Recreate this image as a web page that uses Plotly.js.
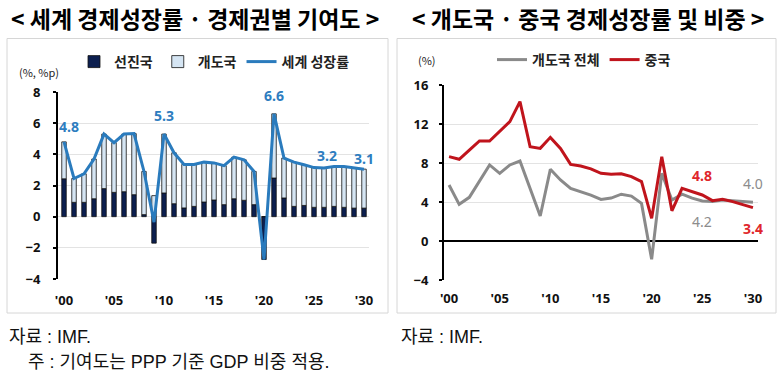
<!DOCTYPE html>
<html>
<head>
<meta charset="utf-8">
<script src="https://cdn.plot.ly/plotly-3.0.1.min.js"></script>
<style>
html,body{margin:0;padding:0;background:#fff;}
#chart{width:782px;height:372px;}
</style>
</head>
<body>
<div id="chart"></div>
<script>
// ---- data ----
const years = [2000,2001,2002,2003,2004,2005,2006,2007,2008,2009,2010,2011,2012,2013,2014,2015,2016,2017,2018,2019,2020,2021,2022,2023,2024,2025,2026,2027,2028,2029,2030];
const worldGrowth = [4.8,2.45,2.75,3.7,5.3,4.75,5.3,5.33,2.9,-0.35,5.3,4.1,3.35,3.35,3.5,3.45,3.27,3.82,3.65,2.9,-2.75,6.6,3.76,3.5,3.33,3.15,3.12,3.22,3.22,3.15,3.05];
const advancedContrib = [2.43,0.92,0.92,1.15,1.8,1.56,1.6,1.41,0.13,-1.7,1.52,0.83,0.56,0.66,0.94,1.07,0.77,1.15,1.05,0.77,-2.75,2.48,1.2,0.66,0.72,0.6,0.6,0.66,0.6,0.55,0.55];
const developingContrib = [2.37,1.53,1.83,2.55,3.5,3.19,3.7,3.92,2.77,1.35,3.78,3.27,2.79,2.69,2.56,2.38,2.5,2.67,2.6,2.13,0,4.12,2.56,2.84,2.61,2.55,2.52,2.56,2.62,2.6,2.5];
const emdeGrowth = [5.74,3.76,4.48,6.08,7.8,6.94,7.8,8.2,5.4,2.56,7.35,6.26,5.4,5.06,4.7,4.27,4.4,4.8,4.6,3.86,-1.88,6.94,4.2,4.8,4.4,4.1,4.05,4.2,4.1,4.05,3.97];
const chinaGrowth = [8.65,8.38,9.33,10.26,10.26,11.2,12.24,14.29,9.67,9.5,10.63,9.5,7.86,7.69,7.4,6.94,6.84,6.9,6.6,6.1,2.32,8.65,3.1,5.4,5.06,4.72,4.14,4.27,4.04,3.7,3.42];
const xTickVals = [2000,2005,2010,2015,2020,2025,2030];
const xTickText = ["'00","'05","'10","'15","'20","'25","'30"];
const leftYTicks = [-4,-2,0,2,4,6,8];
const rightYTicks = [-4,0,4,8,12,16];
const halfYearTicks = years.map(y => y + 0.5);
// labelled points: [x, y, text]
const worldLabels = [[2000.5,5.8,'4.8'],[2010,6.5,'5.3'],[2021,7.8,'6.6'],[2026.3,3.9,'3.2'],[2030,3.75,'3.1']];
const chinaLabels = [[2025,6.7,'4.8'],[2030,1.25,'3.4']];
const emdeLabels = [[2030,5.85,'4.0'],[2025,2.0,'4.2']];

// ---- layout geometry ----
const W = 782, H = 372;
const px = v => v / W, py = v => 1 - v / H;
const KR = '"Noto Sans CJK KR", "Noto Sans", sans-serif';
const leftDom = {x:[px(58), px(369)], y:[py(279), py(92)]};
const rightDom = {x:[px(444), px(758)], y:[py(280), py(85)]};
const leftRange = [-4, 8];
const zeroPos = leftDom.y[0] + (0 - leftRange[0]) / (leftRange[1] - leftRange[0]) * (leftDom.y[1] - leftDom.y[0]);

const navy = '#0c1f4f', lightBlue = '#d5e5f3', blue = '#2a7bbd';
const gray = '#8a8a8a', red = '#c0141c';

const traces = [
  {type:'bar', x:years, y:advancedContrib, name:'선진국', marker:{color:navy, line:{color:'#111', width:0.8}}, width:0.45, xaxis:'x', yaxis:'y', legend:'legend'},
  {type:'bar', x:years, y:developingContrib, name:'개도국', marker:{color:lightBlue, line:{color:'#111', width:0.8}}, width:0.45, xaxis:'x', yaxis:'y', legend:'legend'},
  {type:'scatter', mode:'lines', x:years, y:worldGrowth, name:'세계 성장률', line:{color:blue, width:3}, xaxis:'x', yaxis:'y', legend:'legend'},
  {type:'scatter', mode:'lines', x:years, y:emdeGrowth, name:'개도국 전체', line:{color:gray, width:3}, xaxis:'x2', yaxis:'y2', legend:'legend2'},
  {type:'scatter', mode:'lines', x:years, y:chinaGrowth, name:'중국', line:{color:red, width:3}, xaxis:'x2', yaxis:'y2', legend:'legend2'}
];

const tickFont = {family:'"Noto Sans", "Noto Sans CJK KR", sans-serif', size:13, color:'#111', weight:'bold'};

const annotations = [];
function ann(x, y, text, opts) {
  annotations.push(Object.assign({x:x, y:y, text:text, showarrow:false, xref:'paper', yref:'paper', xanchor:'center', yanchor:'middle'}, opts));
}
const titleFont = {family:KR, size:23, color:'#000', weight:'bold'};
ann(px(195), py(18), '< 세계 경제성장률 · 경제권별 기여도 >', {font:titleFont});
ann(px(588), py(18), '< 개도국 · 중국 경제성장률 및 비중 >', {font:titleFont});
ann(px(17), py(72), '(%, %p)', {xanchor:'left', font:{family:KR, size:11, color:'#222'}});
ann(px(416), py(60), '(%)', {xanchor:'left', font:{family:KR, size:11, color:'#222'}});
const footFont = {family:'"Liberation Sans", "Noto Sans CJK KR", sans-serif', size:18, color:'#111'};
ann(px(7), py(337), '자료 : IMF.', {xanchor:'left', font:footFont});
ann(px(26), py(362), '주 : 기여도는 PPP 기준 GDP 비중 적용.', {xanchor:'left', font:footFont});
ann(px(399), py(337), '자료 : IMF.', {xanchor:'left', font:footFont});
worldLabels.forEach(l => annotations.push({x:l[0], y:l[1], text:l[2], xref:'x', yref:'y', showarrow:false, xanchor:'center', yanchor:'middle', font:{family:'"Noto Sans", sans-serif', size:14, color:'#2e7dbf', weight:'bold'}}));
chinaLabels.forEach(l => annotations.push({x:l[0], y:l[1], text:l[2], xref:'x2', yref:'y2', showarrow:false, xanchor:'center', yanchor:'middle', font:{family:'"Noto Sans", sans-serif', size:14, color:'#e0262b', weight:'bold'}}));
emdeLabels.forEach(l => annotations.push({x:l[0], y:l[1], text:l[2], xref:'x2', yref:'y2', showarrow:false, xanchor:'center', yanchor:'middle', font:{family:'"Noto Sans", sans-serif', size:14, color:'#8c8c8c'}}));

const legendFont = {family:KR, size:14, color:'#222', weight:'bold'};
const layout = {
  width:W, height:H, margin:{l:0, r:0, t:0, b:0},
  paper_bgcolor:'#fff', plot_bgcolor:'rgba(0,0,0,0)',
  barmode:'relative', bargap:0.5,
  showlegend:true,
  font:{family:KR},
  xaxis:{domain:leftDom.x, range:[1999.4, 2030.5], anchor:'y', tickvals:xTickVals, ticktext:xTickText, ticks:'', showgrid:false, zeroline:false, showline:false, tickfont:tickFont, ticklabelstandoff:12, fixedrange:true},
  xaxis3:{overlaying:'x', anchor:'free', position:zeroPos, range:[1999.4, 2030.5], domain:leftDom.x, tickvals:halfYearTicks, ticks:'outside', ticklen:4, tickwidth:2, tickcolor:'#000', showticklabels:false, showline:true, linecolor:'#000', linewidth:2, showgrid:false, zeroline:false},
  yaxis:{domain:leftDom.y, range:leftRange, anchor:'x', tickvals:leftYTicks, ticks:'outside', ticklen:3, tickwidth:2, tickcolor:'#000', showline:true, linecolor:'#000', linewidth:2, gridcolor:'#e3e3e3', gridwidth:1, zeroline:false, tickfont:tickFont, ticklabelstandoff:10},
  xaxis2:{domain:rightDom.x, range:[1999.5, 2030.5], anchor:'y2', tickvals:xTickVals, ticktext:xTickText, ticks:'', showgrid:false, zeroline:false, showline:false, tickfont:tickFont, ticklabelstandoff:9},
  yaxis2:{domain:rightDom.y, range:[-4, 16], anchor:'x2', tickvals:rightYTicks, ticks:'outside', ticklen:3, tickwidth:2, tickcolor:'#000', showline:true, linecolor:'#000', linewidth:2, gridcolor:'#e3e3e3', gridwidth:1, zeroline:true, zerolinecolor:'#000', zerolinewidth:2, tickfont:tickFont, ticklabelstandoff:8},
  legend:{orientation:'h', x:px(74), y:py(62), xanchor:'left', yanchor:'middle', bgcolor:'rgba(0,0,0,0)', font:legendFont, traceorder:'normal', itemwidth:30},
  legend2:{orientation:'h', x:px(492), y:py(60), xanchor:'left', yanchor:'middle', bgcolor:'rgba(0,0,0,0)', font:legendFont, traceorder:'normal', itemwidth:30},
  shapes:[
    {type:'rect', xref:'paper', yref:'paper', x0:px(7), x1:px(388), y0:py(313), y1:py(38.5), line:{color:'#d6d6d6', width:1}, layer:'below'},
    {type:'rect', xref:'paper', yref:'paper', x0:px(397), x1:px(776), y0:py(313), y1:py(38.5), line:{color:'#d6d6d6', width:1}, layer:'below'}
  ],
  annotations:annotations
};

Plotly.newPlot('chart', traces, layout, {staticPlot:true, displayModeBar:false});
</script>
</body>
</html>
